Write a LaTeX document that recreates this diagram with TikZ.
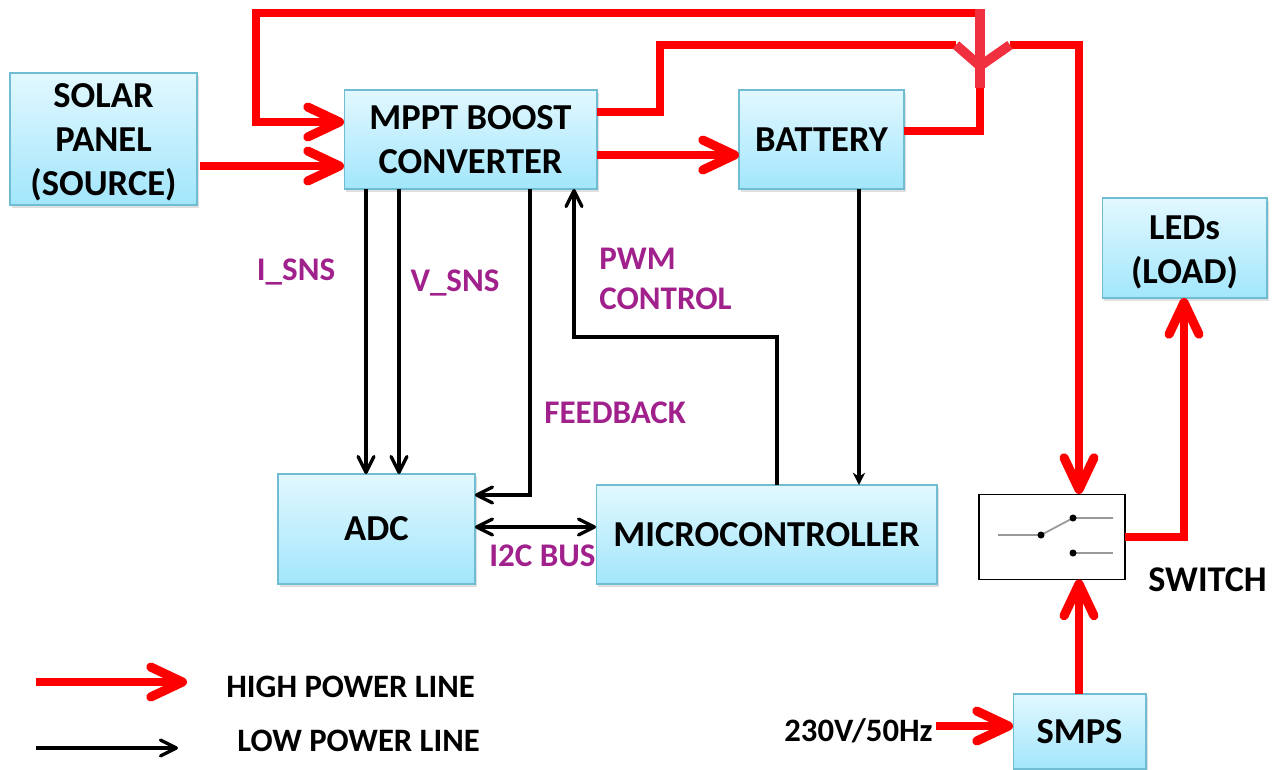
\documentclass[tikz,border=0pt]{standalone}
\usepackage{fontspec}
\setmainfont{Carlito}
\usetikzlibrary{arrows.meta,shadows}
\definecolor{boxtop}{HTML}{E2F8FF}
\definecolor{boxbot}{HTML}{A2E6FB}
\definecolor{boxline}{HTML}{70BCD2}
\definecolor{labelcol}{HTML}{A1218C}
\definecolor{forkcol}{HTML}{F0303F}
\tikzset{
  box/.style={draw=boxline,line width=0.6pt,top color=boxtop,bottom color=boxbot,align=center,inner sep=0pt,outer sep=0pt,
    font=\fontsize{20.8}{25}\selectfont\bfseries,drop shadow={shadow xshift=1pt,shadow yshift=-1.5pt,opacity=0.25}},
  sig/.style={font=\fontsize{18.8}{23}\selectfont\bfseries,text=labelcol,align=left,inner sep=0pt},
  key/.style={font=\fontsize{18.6}{20}\selectfont\bfseries,inner sep=0pt},
  hipow/.style={draw=red,line width=4.2pt,line join=miter},
  hiarrow/.style={hipow,-{Straight Barb[length=18pt,width=17pt,round,line width=5.2pt]}},
  lopow/.style={draw=black,line width=1.9pt},
  loarrow/.style={lopow,-{Straight Barb[length=9pt,width=9pt,round]}},
  thinarrow/.style={draw=black,line width=1.9pt,-{Stealth[length=7pt,width=7pt]}},
  contact/.style={draw=gray!80,line width=1pt}
}
\begin{document}
\begin{tikzpicture}[x=0.02cm,y=-0.02cm]
\useasboundingbox (0,0) rectangle (1274,769);
% blocks
\node[box,minimum width=3.74cm,minimum height=2.64cm] (solar) at (103.5,139) {\rule{0pt}{17pt}SOLAR\\PANEL\\(SOURCE)};
\node[box,minimum width=5.06cm,minimum height=1.98cm] (mppt) at (470.5,139.5) {MPPT BOOST\\CONVERTER};
\node[box,minimum width=3.30cm,minimum height=1.98cm] (battery) at (821.5,139.5) {BATTERY};
\node[box,minimum width=3.30cm,minimum height=2.00cm] (leds) at (1184.5,248) {\rule{0pt}{19pt}LEDs\\(LOAD)};
\node[box,minimum width=3.94cm,minimum height=2.20cm] (adc) at (376.5,529) {ADC};
\node[box,minimum width=6.82cm,minimum height=1.98cm] (micro) at (766.5,534.5) {MICROCONTROLLER};
\node[box,minimum width=2.66cm,minimum height=1.50cm] (smps) at (1079.5,731.5) {SMPS};
\node[draw=black,line width=0.8pt,fill=white,minimum width=2.92cm,minimum height=1.70cm,inner sep=0pt,outer sep=0pt] (switch) at (1052,537) {};
% switch contacts
\foreach \name/\px/\py in {pole/1041/535,upper/1073/518,lower/1073/553}
  \coordinate (\name) at (\px,\py);
\coordinate (polein) at (998,535);
\coordinate (upperout) at (1113,518);
\coordinate (lowerout) at (1113,553);
\draw[contact] (polein) -- (pole) -- (upper) -- (upperout);
\draw[contact] (lower) -- (lowerout);
\foreach \name in {pole,upper,lower}
  \fill (\name) circle (2pt);
% high power lines
\coordinate (mpptin) at (344,166);
\coordinate (loopin) at (344,122);
\coordinate (loopa) at (256,122);
\coordinate (loopb) at (256,13);
\coordinate (forkcap) at (980,9);
\coordinate (forktop) at (980,13);
\coordinate (forkmid) at (980,66);
\coordinate (forkbot) at (980,88);
\coordinate (forkleft) at (956,45);
\coordinate (forkright) at (1010,45);
\coordinate (mpptout) at (597,112);
\coordinate (mpptup) at (660,112);
\coordinate (mpptover) at (660,45);
\coordinate (battout) at (980,131);
\coordinate (battin) at (739,155);
\coordinate (swtop) at (1079,45);
\coordinate (swin) at (1079,494);
\coordinate (ledsin) at (1184,537);
\coordinate (mainsin) at (936,726);
\coordinate (solarout) at (200,166);
\draw[hiarrow] (solarout) -- (mpptin);
\draw[hiarrow] (forktop) -- (loopb) -- (loopa) -- (loopin);
\draw[hiarrow] (mppt.east |- battin) -- (battin);
\draw[hipow] (mpptout) -- (mpptup) -- (mpptover) -- (forkleft);
\draw[hipow] (battery.east |- battout) -- (battout) -- (forkbot);
\draw[hiarrow] (forkright) -- (swtop) -- (swin);
\draw[hiarrow] (switch.east) -- (ledsin) -- (ledsin |- leds.south);
\draw[hiarrow] (smps.north -| swin) -- (swin |- switch.south);
\draw[hiarrow] (mainsin) -- (smps.west |- mainsin);
\draw[forkcol,line width=5.5pt] (forkcap) -- (forkbot);
\draw[forkcol,line width=5.5pt,line join=round] (forkleft) -- (forkmid) -- (forkright);
% low power lines
\coordinate (isns) at (366,189);
\coordinate (vsns) at (399,189);
\coordinate (fbk) at (530,189);
\coordinate (fbkin) at (530,495);
\coordinate (pwmout) at (777,485);
\coordinate (pwmturn) at (777,337);
\coordinate (pwmup) at (574,337);
\coordinate (battdown) at (859,189);
\coordinate (busy) at (527,527);
\draw[loarrow] (isns) -- (isns |- adc.north);
\draw[loarrow] (vsns) -- (vsns |- adc.north);
\draw[loarrow] (fbk) -- (fbkin) -- (adc.east |- fbkin);
\draw[loarrow] (pwmout) -- (pwmturn) -- (pwmup) -- (pwmup |- mppt.south);
\draw[thinarrow] (battdown) -- (battdown |- micro.north);
\draw[lopow,{Straight Barb[length=9pt,width=9pt,round]}-{Straight Barb[length=9pt,width=9pt,round]}] (adc.east |- busy) -- (micro.west |- busy);
% labels
\node[sig] (lblisns) at (296,272) {I\_SNS};
\node[sig] (lblvsns) at (455,283) {V\_SNS};
\node[sig,anchor=west] (lblpwm) at (599,279) {PWM\\CONTROL};
\node[sig,anchor=west] (lblfbk) at (544,413) {FEEDBACK};
\node[sig,anchor=west] (lblbus) at (489,556) {I2C BUS};
\node[key,font=\fontsize{20.6}{22}\selectfont\bfseries,anchor=west] (lblswitch) at (1148,580) {SWITCH};
\node[key,anchor=east] (lblmains) at (933,731) {230V/50Hz};
% legend
\coordinate (keyhia) at (36,682);
\coordinate (keyhib) at (187,682);
\coordinate (keyloa) at (36,748);
\coordinate (keylob) at (178,748);
\draw[hiarrow] (keyhia) -- (keyhib);
\draw[loarrow] (keyloa) -- (keylob);
\node[key,anchor=west] (lblhi) at (226,687) {HIGH POWER LINE};
\node[key,anchor=west] (lbllo) at (237,741) {LOW POWER LINE};
\end{tikzpicture}
\end{document}
